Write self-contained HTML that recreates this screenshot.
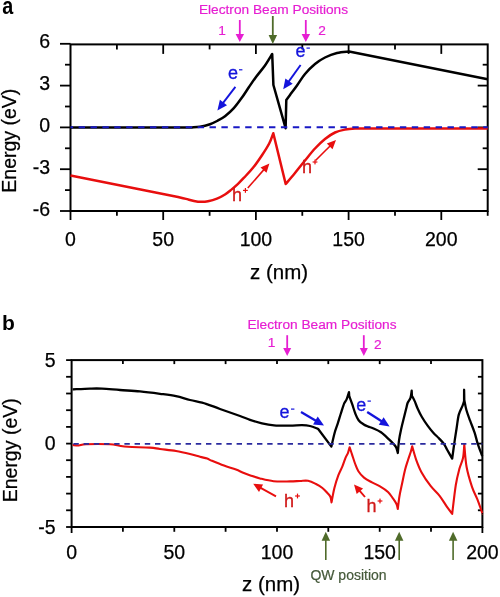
<!DOCTYPE html>
<html><head><meta charset="utf-8"><style>
html,body{margin:0;padding:0;background:#fff;}
svg{display:block;will-change:transform;}
text{font-family:"Liberation Sans",sans-serif;}
.tl{font-size:19.5px;fill:#000;stroke:#000;stroke-width:0.25px;}
.tlb{font-size:19.5px;fill:#000;stroke:#000;stroke-width:0.25px;}
.at{font-size:20.5px;fill:#000;stroke:#000;stroke-width:0.25px;}
.at2{font-size:19.5px;fill:#000;stroke:#000;stroke-width:0.25px;}
.pl{font-size:21px;font-weight:bold;fill:#000;}
.tt{font-size:13.7px;stroke:#e61ed2;stroke-width:0.2px;}
.eh{font-size:18px;stroke-width:0.3px;}
.qw{font-size:14px;stroke:#45593a;stroke-width:0.2px;}
</style></head><body>
<svg width="500" height="597" viewBox="0 0 500 597">
<rect width="500" height="597" fill="#fff"/>
<rect x="70.5" y="44.4" width="417.2" height="166.6" fill="none" stroke="#000" stroke-width="2"/>
<line x1="70.5" y1="211.0" x2="70.5" y2="220.0" stroke="#000" stroke-width="1.8"/>
<line x1="116.9" y1="211.0" x2="116.9" y2="215.8" stroke="#000" stroke-width="1.8"/>
<line x1="116.9" y1="44.4" x2="116.9" y2="49.4" stroke="#000" stroke-width="1.8"/>
<line x1="163.2" y1="211.0" x2="163.2" y2="220.0" stroke="#000" stroke-width="1.8"/>
<line x1="163.2" y1="44.4" x2="163.2" y2="53.9" stroke="#000" stroke-width="1.8"/>
<line x1="209.6" y1="211.0" x2="209.6" y2="215.8" stroke="#000" stroke-width="1.8"/>
<line x1="209.6" y1="44.4" x2="209.6" y2="49.4" stroke="#000" stroke-width="1.8"/>
<line x1="255.9" y1="211.0" x2="255.9" y2="220.0" stroke="#000" stroke-width="1.8"/>
<line x1="255.9" y1="44.4" x2="255.9" y2="53.9" stroke="#000" stroke-width="1.8"/>
<line x1="302.3" y1="211.0" x2="302.3" y2="215.8" stroke="#000" stroke-width="1.8"/>
<line x1="302.3" y1="44.4" x2="302.3" y2="49.4" stroke="#000" stroke-width="1.8"/>
<line x1="348.6" y1="211.0" x2="348.6" y2="220.0" stroke="#000" stroke-width="1.8"/>
<line x1="348.6" y1="44.4" x2="348.6" y2="53.9" stroke="#000" stroke-width="1.8"/>
<line x1="395.0" y1="211.0" x2="395.0" y2="215.8" stroke="#000" stroke-width="1.8"/>
<line x1="395.0" y1="44.4" x2="395.0" y2="49.4" stroke="#000" stroke-width="1.8"/>
<line x1="441.3" y1="211.0" x2="441.3" y2="220.0" stroke="#000" stroke-width="1.8"/>
<line x1="441.3" y1="44.4" x2="441.3" y2="53.9" stroke="#000" stroke-width="1.8"/>
<line x1="487.7" y1="211.0" x2="487.7" y2="215.8" stroke="#000" stroke-width="1.8"/>
<line x1="60.0" y1="211.0" x2="70.5" y2="211.0" stroke="#000" stroke-width="1.8"/>
<line x1="65.0" y1="190.1" x2="70.5" y2="190.1" stroke="#000" stroke-width="1.8"/>
<line x1="482.7" y1="190.1" x2="487.7" y2="190.1" stroke="#000" stroke-width="1.8"/>
<line x1="60.0" y1="169.2" x2="70.5" y2="169.2" stroke="#000" stroke-width="1.8"/>
<line x1="477.7" y1="169.2" x2="487.7" y2="169.2" stroke="#000" stroke-width="1.8"/>
<line x1="65.0" y1="148.3" x2="70.5" y2="148.3" stroke="#000" stroke-width="1.8"/>
<line x1="482.7" y1="148.3" x2="487.7" y2="148.3" stroke="#000" stroke-width="1.8"/>
<line x1="60.0" y1="127.4" x2="70.5" y2="127.4" stroke="#000" stroke-width="1.8"/>
<line x1="477.7" y1="127.4" x2="487.7" y2="127.4" stroke="#000" stroke-width="1.8"/>
<line x1="65.0" y1="106.5" x2="70.5" y2="106.5" stroke="#000" stroke-width="1.8"/>
<line x1="482.7" y1="106.5" x2="487.7" y2="106.5" stroke="#000" stroke-width="1.8"/>
<line x1="60.0" y1="85.6" x2="70.5" y2="85.6" stroke="#000" stroke-width="1.8"/>
<line x1="477.7" y1="85.6" x2="487.7" y2="85.6" stroke="#000" stroke-width="1.8"/>
<line x1="65.0" y1="64.7" x2="70.5" y2="64.7" stroke="#000" stroke-width="1.8"/>
<line x1="482.7" y1="64.7" x2="487.7" y2="64.7" stroke="#000" stroke-width="1.8"/>
<line x1="60.0" y1="43.8" x2="70.5" y2="43.8" stroke="#000" stroke-width="1.8"/>
<text x="70.5" y="246" class="tl" text-anchor="middle">0</text>
<text x="163.2" y="246" class="tl" text-anchor="middle">50</text>
<text x="255.9" y="246" class="tl" text-anchor="middle">100</text>
<text x="348.6" y="246" class="tl" text-anchor="middle">150</text>
<text x="441.3" y="246" class="tl" text-anchor="middle">200</text>
<text x="50" y="48.3" class="tl" text-anchor="end">6</text>
<text x="50" y="90.1" class="tl" text-anchor="end">3</text>
<text x="50" y="131.9" class="tl" text-anchor="end">0</text>
<text x="50" y="173.7" class="tl" text-anchor="end">-3</text>
<text x="50" y="215.5" class="tl" text-anchor="end">-6</text>
<text x="279" y="278.5" class="at" text-anchor="middle">z (nm)</text>
<text transform="translate(16.2,140.7) rotate(-90)" class="at2" text-anchor="middle">Energy (eV)</text>
<text transform="translate(2.2,14) scale(0.86,1)" class="pl" style="font-size:23px">a</text>
<path d="M70.50,127.40 L192.00,127.40 C193.33,127.30 197.00,127.33 200.00,126.80 C203.00,126.27 207.03,125.23 210.00,124.20 C212.97,123.17 215.30,121.92 217.80,120.60 C220.30,119.28 222.33,118.37 225.00,116.30 C227.67,114.23 230.97,111.33 233.80,108.20 C236.63,105.07 239.47,101.03 242.00,97.50 C244.53,93.97 246.67,90.42 249.00,87.00 C251.33,83.58 253.33,80.58 256.00,77.00 C258.67,73.42 262.30,69.33 265.00,65.50 C267.70,61.67 271.00,55.92 272.20,54.00 L273.40,85.00 L285.60,128.20 L286.30,100.00 C286.92,99.17 288.22,97.42 290.00,95.00 C291.78,92.58 294.50,89.00 297.00,85.50 C299.50,82.00 302.00,77.58 305.00,74.00 C308.00,70.42 311.67,66.75 315.00,64.00 C318.33,61.25 321.33,59.33 325.00,57.50 C328.67,55.67 333.00,54.00 337.00,53.00 C341.00,52.00 347.00,51.75 349.00,51.50 L487.70,79.30" fill="none" stroke="#000" stroke-width="2.5" stroke-linejoin="round"/>
<path d="M70.50,175.50 L178.00,197.00 C179.33,197.32 183.33,198.25 186.00,198.90 C188.67,199.55 191.50,200.42 194.00,200.90 C196.50,201.38 198.67,201.75 201.00,201.80 C203.33,201.85 205.33,201.73 208.00,201.20 C210.67,200.67 214.17,199.72 217.00,198.60 C219.83,197.48 222.60,196.00 225.00,194.50 C227.40,193.00 229.23,191.38 231.40,189.60 C233.57,187.82 235.90,185.78 238.00,183.80 C240.10,181.82 241.50,180.37 244.00,177.70 C246.50,175.03 250.00,171.55 253.00,167.80 C256.00,164.05 259.30,159.25 262.00,155.20 C264.70,151.15 267.32,147.17 269.20,143.50 C271.08,139.83 272.62,134.92 273.30,133.20 L285.70,184.00 C287.25,182.17 291.78,176.92 295.00,173.00 C298.22,169.08 301.67,164.58 305.00,160.50 C308.33,156.42 311.67,152.08 315.00,148.50 C318.33,144.92 321.67,141.67 325.00,139.00 C328.33,136.33 331.67,134.07 335.00,132.50 C338.33,130.93 341.67,130.27 345.00,129.60 C348.33,128.93 351.67,128.70 355.00,128.50 C358.33,128.30 363.33,128.42 365.00,128.40 L487.70,128.40" fill="none" stroke="#e80e0e" stroke-width="2.5" stroke-linejoin="round"/>
<line x1="70.5" y1="127.2" x2="487.7" y2="127.2" stroke="#1818c4" stroke-width="2" stroke-dasharray="6.4 5.5" stroke-dashoffset="-8.1"/>
<line x1="235.4" y1="86.8" x2="222.9" y2="103.2" stroke="#1414dc" stroke-width="1.9"/>
<polygon points="217.4,110.4 219.9,99.7 227.0,105.2" fill="#1414dc"/>
<line x1="300.6" y1="65.0" x2="288.5" y2="81.9" stroke="#1414dc" stroke-width="1.9"/>
<polygon points="283.2,89.2 285.4,78.5 292.7,83.7" fill="#1414dc"/>
<text x="228" y="79" class="eh" fill="#1414dc" stroke="#1414dc">e</text>
<rect x="239" y="69.2" width="3.4" height="1.2" fill="#1414dc"/>
<text x="295.5" y="57" class="eh" fill="#1414dc" stroke="#1414dc">e</text>
<rect x="306.5" y="47.5" width="3.4" height="1.2" fill="#1414dc"/>
<line x1="247.8" y1="188.0" x2="264.1" y2="169.4" stroke="#e80e0e" stroke-width="1.6"/>
<polygon points="269.4,163.4 266.5,172.8 260.5,167.5" fill="#e80e0e"/>
<line x1="315.5" y1="160.5" x2="330.3" y2="145.7" stroke="#e80e0e" stroke-width="1.6"/>
<polygon points="336.0,140.0 332.5,149.2 326.8,143.5" fill="#e80e0e"/>
<text x="232" y="201" class="eh" fill="#d01818" stroke="#d01818">h</text>
<rect x="243.0" y="189.8" width="4.8" height="1.2" fill="#e80e0e"/>
<rect x="244.8" y="188.0" width="1.2" height="4.8" fill="#e80e0e"/>
<text x="302" y="173" class="eh" fill="#d01818" stroke="#d01818">h</text>
<rect x="312.6" y="161.4" width="4.8" height="1.2" fill="#e80e0e"/>
<rect x="314.4" y="159.6" width="1.2" height="4.8" fill="#e80e0e"/>
<text x="273.5" y="14.2" class="tt" text-anchor="middle" fill="#e61ed2">Electron Beam Positions</text>
<text x="222" y="35" class="tt" text-anchor="middle" fill="#e61ed2">1</text>
<text x="322" y="35" class="tt" text-anchor="middle" fill="#e61ed2">2</text>
<line x1="239.8" y1="20.0" x2="239.8" y2="35.0" stroke="#e61ed2" stroke-width="1.8"/>
<polygon points="239.8,42.0 235.6,34.0 244.1,34.0" fill="#e61ed2"/>
<line x1="305.8" y1="20.0" x2="305.8" y2="35.0" stroke="#e61ed2" stroke-width="1.8"/>
<polygon points="305.8,42.0 301.6,34.0 310.1,34.0" fill="#e61ed2"/>
<line x1="272.8" y1="16.0" x2="272.8" y2="36.0" stroke="#4f6b2a" stroke-width="1.8"/>
<polygon points="272.8,44.0 268.6,35.0 277.1,35.0" fill="#4f6b2a"/>
<rect x="71.6" y="360.1" width="410.79999999999995" height="166.89999999999998" fill="none" stroke="#000" stroke-width="2"/>
<line x1="71.6" y1="527.0" x2="71.6" y2="533.0" stroke="#000" stroke-width="1.8"/>
<line x1="122.9" y1="527.0" x2="122.9" y2="531.8" stroke="#000" stroke-width="1.8"/>
<line x1="122.9" y1="360.1" x2="122.9" y2="364.1" stroke="#000" stroke-width="1.8"/>
<line x1="174.3" y1="527.0" x2="174.3" y2="531.8" stroke="#000" stroke-width="1.8"/>
<line x1="174.3" y1="360.1" x2="174.3" y2="364.1" stroke="#000" stroke-width="1.8"/>
<line x1="225.6" y1="527.0" x2="225.6" y2="531.8" stroke="#000" stroke-width="1.8"/>
<line x1="225.6" y1="360.1" x2="225.6" y2="364.1" stroke="#000" stroke-width="1.8"/>
<line x1="277.0" y1="527.0" x2="277.0" y2="531.8" stroke="#000" stroke-width="1.8"/>
<line x1="277.0" y1="360.1" x2="277.0" y2="364.1" stroke="#000" stroke-width="1.8"/>
<line x1="328.3" y1="527.0" x2="328.3" y2="531.8" stroke="#000" stroke-width="1.8"/>
<line x1="328.3" y1="360.1" x2="328.3" y2="364.1" stroke="#000" stroke-width="1.8"/>
<line x1="379.7" y1="527.0" x2="379.7" y2="531.8" stroke="#000" stroke-width="1.8"/>
<line x1="379.7" y1="360.1" x2="379.7" y2="364.1" stroke="#000" stroke-width="1.8"/>
<line x1="431.0" y1="527.0" x2="431.0" y2="531.8" stroke="#000" stroke-width="1.8"/>
<line x1="431.0" y1="360.1" x2="431.0" y2="364.1" stroke="#000" stroke-width="1.8"/>
<line x1="482.4" y1="527.0" x2="482.4" y2="533.0" stroke="#000" stroke-width="1.8"/>
<line x1="66.1" y1="527.0" x2="71.6" y2="527.0" stroke="#000" stroke-width="1.8"/>
<line x1="66.1" y1="510.3" x2="71.6" y2="510.3" stroke="#000" stroke-width="1.8"/>
<line x1="477.9" y1="510.3" x2="482.4" y2="510.3" stroke="#000" stroke-width="1.8"/>
<line x1="66.1" y1="493.6" x2="71.6" y2="493.6" stroke="#000" stroke-width="1.8"/>
<line x1="477.9" y1="493.6" x2="482.4" y2="493.6" stroke="#000" stroke-width="1.8"/>
<line x1="66.1" y1="476.9" x2="71.6" y2="476.9" stroke="#000" stroke-width="1.8"/>
<line x1="477.9" y1="476.9" x2="482.4" y2="476.9" stroke="#000" stroke-width="1.8"/>
<line x1="66.1" y1="460.2" x2="71.6" y2="460.2" stroke="#000" stroke-width="1.8"/>
<line x1="477.9" y1="460.2" x2="482.4" y2="460.2" stroke="#000" stroke-width="1.8"/>
<line x1="66.1" y1="443.6" x2="71.6" y2="443.6" stroke="#000" stroke-width="1.8"/>
<line x1="477.9" y1="443.6" x2="482.4" y2="443.6" stroke="#000" stroke-width="1.8"/>
<line x1="66.1" y1="426.9" x2="71.6" y2="426.9" stroke="#000" stroke-width="1.8"/>
<line x1="477.9" y1="426.9" x2="482.4" y2="426.9" stroke="#000" stroke-width="1.8"/>
<line x1="66.1" y1="410.2" x2="71.6" y2="410.2" stroke="#000" stroke-width="1.8"/>
<line x1="477.9" y1="410.2" x2="482.4" y2="410.2" stroke="#000" stroke-width="1.8"/>
<line x1="66.1" y1="393.5" x2="71.6" y2="393.5" stroke="#000" stroke-width="1.8"/>
<line x1="477.9" y1="393.5" x2="482.4" y2="393.5" stroke="#000" stroke-width="1.8"/>
<line x1="66.1" y1="376.8" x2="71.6" y2="376.8" stroke="#000" stroke-width="1.8"/>
<line x1="477.9" y1="376.8" x2="482.4" y2="376.8" stroke="#000" stroke-width="1.8"/>
<line x1="66.1" y1="360.1" x2="71.6" y2="360.1" stroke="#000" stroke-width="1.8"/>
<text x="71.6" y="559" class="tlb" text-anchor="middle">0</text>
<text x="174.3" y="559" class="tlb" text-anchor="middle">50</text>
<text x="277.0" y="559" class="tlb" text-anchor="middle">100</text>
<text x="379.7" y="559" class="tlb" text-anchor="middle">150</text>
<text x="482.4" y="559" class="tlb" text-anchor="middle">200</text>
<text x="55.5" y="366.6" class="tlb" text-anchor="end">5</text>
<text x="55.5" y="450.1" class="tlb" text-anchor="end">0</text>
<text x="55.5" y="533.5" class="tlb" text-anchor="end">-5</text>
<text x="271" y="590.5" class="at" text-anchor="middle">z (nm)</text>
<text transform="translate(16.6,450.3) rotate(-90)" class="at2" text-anchor="middle">Energy (eV)</text>
<text x="2" y="330" class="pl">b</text>
<path d="M72.60,389.40 C75.50,389.27 85.10,388.73 90.00,388.60 C94.90,388.47 97.00,388.37 102.00,388.60 C107.00,388.83 113.67,389.53 120.00,390.00 C126.33,390.47 133.33,390.77 140.00,391.40 C146.67,392.03 154.00,393.00 160.00,393.80 C166.00,394.60 171.00,395.17 176.00,396.20 C181.00,397.23 185.00,398.73 190.00,400.00 C195.00,401.27 201.00,402.30 206.00,403.80 C211.00,405.30 214.33,406.97 220.00,409.00 C225.67,411.03 235.00,414.20 240.00,416.00 C245.00,417.80 246.33,418.58 250.00,419.80 C253.67,421.02 258.00,422.38 262.00,423.30 C266.00,424.22 269.33,424.92 274.00,425.30 C278.67,425.68 285.33,425.62 290.00,425.60 C294.67,425.58 298.67,425.13 302.00,425.20 C305.33,425.27 307.33,425.40 310.00,426.00 C312.67,426.60 316.67,428.33 318.00,428.80 L331.40,446.60 C331.93,444.33 333.53,436.87 334.60,433.00 C335.67,429.13 336.73,426.73 337.80,423.40 C338.87,420.07 339.93,416.33 341.00,413.00 C342.07,409.67 343.27,405.67 344.20,403.40 C345.13,401.13 345.80,401.27 346.60,399.40 C347.40,397.53 348.60,393.40 349.00,392.20 L349.20,396.00 C349.70,397.37 351.17,401.23 352.20,404.20 C353.23,407.17 354.33,411.13 355.40,413.80 C356.47,416.47 357.27,418.47 358.60,420.20 C359.93,421.93 361.80,423.13 363.40,424.20 C365.00,425.27 366.60,425.93 368.20,426.60 C369.80,427.27 370.87,427.27 373.00,428.20 C375.13,429.13 378.33,430.33 381.00,432.20 C383.67,434.07 386.87,437.40 389.00,439.40 C391.13,441.40 392.60,442.87 393.80,444.20 C395.00,445.53 395.53,445.93 396.20,447.40 C396.87,448.87 397.53,452.07 397.80,453.00 C398.02,450.80 398.52,443.90 399.10,439.80 C399.68,435.70 400.47,432.20 401.30,428.40 C402.13,424.60 403.28,420.32 404.10,417.00 C404.92,413.68 405.60,410.87 406.20,408.50 C406.80,406.13 406.98,404.58 407.70,402.80 C408.42,401.02 409.83,399.82 410.50,397.80 C411.17,395.78 411.50,391.88 411.70,390.70 L411.90,395.70 C412.38,396.65 413.85,399.27 414.80,401.40 C415.75,403.53 416.42,405.90 417.60,408.50 C418.78,411.10 420.23,414.15 421.90,417.00 C423.57,419.85 425.70,422.98 427.60,425.60 C429.50,428.22 431.40,430.57 433.30,432.70 C435.20,434.83 437.22,436.52 439.00,438.40 C440.78,440.28 442.67,442.15 444.00,444.00 C445.33,445.85 445.63,447.07 447.00,449.50 C448.37,451.93 451.33,457.08 452.20,458.60 C452.55,456.05 453.57,448.37 454.30,443.30 C455.03,438.23 455.85,432.98 456.60,428.20 C457.35,423.42 457.80,418.37 458.80,414.60 C459.80,410.83 461.72,407.87 462.60,405.60 C463.48,403.33 463.85,401.77 464.10,401.00 C464.10,399.13 464.07,389.97 464.10,389.80 C464.13,389.63 464.27,398.30 464.30,400.00 C464.65,401.67 465.43,406.55 466.40,410.00 C467.37,413.45 468.73,416.92 470.10,420.70 C471.47,424.48 473.35,428.93 474.60,432.70 C475.85,436.47 476.47,439.78 477.60,443.30 C478.73,446.82 480.60,451.68 481.40,453.80 C482.20,455.92 482.23,455.63 482.40,456.00" fill="none" stroke="#000" stroke-width="2.3" stroke-linejoin="round"/>
<path d="M72.60,445.00 C73.63,445.08 76.57,445.63 78.80,445.50 C81.03,445.37 80.80,444.42 86.00,444.20 C91.20,443.98 104.60,443.98 110.00,444.20 C115.40,444.42 115.40,445.07 118.40,445.50 C121.40,445.93 122.73,446.45 128.00,446.80 C133.27,447.15 144.67,447.23 150.00,447.60 C155.33,447.97 155.67,448.43 160.00,449.00 C164.33,449.57 171.00,450.17 176.00,451.00 C181.00,451.83 186.00,453.03 190.00,454.00 C194.00,454.97 197.13,456.03 200.00,456.80 C202.87,457.57 205.20,457.93 207.20,458.60 C209.20,459.27 209.20,459.63 212.00,460.80 C214.80,461.97 220.00,464.13 224.00,465.60 C228.00,467.07 232.80,468.40 236.00,469.60 C239.20,470.80 240.80,471.83 243.20,472.80 C245.60,473.77 247.60,474.47 250.40,475.40 C253.20,476.33 256.13,477.43 260.00,478.40 C263.87,479.37 268.60,480.70 273.60,481.20 C278.60,481.70 285.60,481.43 290.00,481.40 C294.40,481.37 297.00,481.10 300.00,481.00 C303.00,480.90 305.33,480.30 308.00,480.80 C310.67,481.30 313.60,482.80 316.00,484.00 C318.40,485.20 320.53,486.53 322.40,488.00 C324.27,489.47 325.87,491.33 327.20,492.80 C328.53,494.27 329.68,495.20 330.40,496.80 C331.12,498.40 331.32,501.47 331.50,502.40 C331.98,500.00 333.25,492.53 334.40,488.00 C335.55,483.47 337.07,478.80 338.40,475.20 C339.73,471.60 341.20,469.33 342.40,466.40 C343.60,463.47 344.67,459.87 345.60,457.60 C346.53,455.33 347.33,454.53 348.00,452.80 C348.67,451.07 349.33,448.13 349.60,447.20 C350.00,448.40 351.07,451.60 352.00,454.40 C352.93,457.20 354.13,461.20 355.20,464.00 C356.27,466.80 356.93,468.93 358.40,471.20 C359.87,473.47 361.73,475.73 364.00,477.60 C366.27,479.47 369.33,480.93 372.00,482.40 C374.67,483.87 377.33,484.80 380.00,486.40 C382.67,488.00 385.83,489.98 388.00,492.00 C390.17,494.02 391.58,496.50 393.00,498.50 C394.42,500.50 395.70,502.25 396.50,504.00 C397.30,505.75 397.58,508.17 397.80,509.00 C398.08,506.83 398.80,500.17 399.50,496.00 C400.20,491.83 401.08,488.33 402.00,484.00 C402.92,479.67 403.98,474.03 405.00,470.00 C406.02,465.97 407.13,462.85 408.10,459.80 C409.07,456.75 410.12,453.95 410.80,451.70 C411.48,449.45 411.97,447.20 412.20,446.30 C412.87,448.55 414.63,455.45 416.20,459.80 C417.77,464.15 419.20,468.05 421.60,472.40 C424.00,476.75 427.60,482.00 430.60,485.90 C433.60,489.80 436.90,492.35 439.60,495.80 C442.30,499.25 444.70,503.60 446.80,506.60 C448.90,509.60 451.30,512.60 452.20,513.80 C452.80,509.00 454.60,492.50 455.80,485.00 C457.00,477.50 458.20,473.30 459.40,468.80 C460.60,464.30 462.18,462.05 463.00,458.00 C463.82,453.95 464.08,446.75 464.30,444.50 C464.68,448.25 465.32,459.95 466.60,467.00 C467.88,474.05 470.20,481.40 472.00,486.80 C473.80,492.20 475.75,495.20 477.40,499.40 C479.05,503.60 481.07,509.73 481.90,512.00 C482.73,514.27 482.32,512.83 482.40,513.00" fill="none" stroke="#e80e0e" stroke-width="2.1" stroke-linejoin="round"/>
<line x1="71.6" y1="443.9" x2="482.4" y2="443.9" stroke="#2a2a9e" stroke-width="1.9" stroke-dasharray="5.4 4.8" stroke-dashoffset="-1.8"/>
<line x1="301.0" y1="412.0" x2="316.3" y2="421.0" stroke="#1414dc" stroke-width="2.3"/>
<polygon points="324.0,425.6 313.1,424.4 317.7,416.6" fill="#1414dc"/>
<line x1="367.2" y1="412.0" x2="382.0" y2="421.5" stroke="#1414dc" stroke-width="2.3"/>
<polygon points="389.6,426.4 378.8,424.8 383.6,417.2" fill="#1414dc"/>
<text x="279.5" y="417.5" class="eh" fill="#1414dc" stroke="#1414dc">e</text>
<rect x="291" y="408.5" width="3.4" height="1.2" fill="#1414dc"/>
<text x="356.3" y="410.5" class="eh" fill="#1414dc" stroke="#1414dc">e</text>
<rect x="367.5" y="400.5" width="3.4" height="1.2" fill="#1414dc"/>
<line x1="276.0" y1="496.4" x2="260.2" y2="487.7" stroke="#e80e0e" stroke-width="1.9"/>
<polygon points="253.2,483.8 263.1,484.4 259.0,491.9" fill="#e80e0e"/>
<line x1="365.0" y1="497.0" x2="359.3" y2="490.4" stroke="#e80e0e" stroke-width="1.9"/>
<polygon points="354.0,484.4 363.1,488.4 356.7,494.0" fill="#e80e0e"/>
<text x="284" y="506.5" class="eh" fill="#d01818" stroke="#d01818">h</text>
<rect x="295.1" y="495.4" width="4.8" height="1.2" fill="#e80e0e"/>
<rect x="296.9" y="493.6" width="1.2" height="4.8" fill="#e80e0e"/>
<text x="366.5" y="512" class="eh" fill="#d01818" stroke="#d01818">h</text>
<rect x="377.6" y="500.4" width="4.8" height="1.2" fill="#e80e0e"/>
<rect x="379.4" y="498.6" width="1.2" height="4.8" fill="#e80e0e"/>
<text x="322" y="329" class="tt" text-anchor="middle" fill="#e61ed2">Electron Beam Positions</text>
<text x="271.5" y="347" class="tt" text-anchor="middle" fill="#e61ed2">1</text>
<text x="377.7" y="349" class="tt" text-anchor="middle" fill="#e61ed2">2</text>
<line x1="287.2" y1="335.2" x2="287.2" y2="349.0" stroke="#e61ed2" stroke-width="1.8"/>
<polygon points="287.2,356.0 283.2,348.0 291.2,348.0" fill="#e61ed2"/>
<line x1="363.8" y1="335.2" x2="363.8" y2="349.0" stroke="#e61ed2" stroke-width="1.8"/>
<polygon points="363.8,356.0 359.8,348.0 367.8,348.0" fill="#e61ed2"/>
<line x1="325.8" y1="560.0" x2="325.8" y2="539.8" stroke="#4f6b2a" stroke-width="1.6"/>
<polygon points="325.8,531.8 330.1,540.8 321.6,540.8" fill="#4f6b2a"/>
<line x1="399.2" y1="560.0" x2="399.2" y2="539.8" stroke="#4f6b2a" stroke-width="1.6"/>
<polygon points="399.2,531.8 403.4,540.8 394.9,540.8" fill="#4f6b2a"/>
<line x1="453.1" y1="560.0" x2="453.1" y2="539.8" stroke="#4f6b2a" stroke-width="1.6"/>
<polygon points="453.1,531.8 457.4,540.8 448.9,540.8" fill="#4f6b2a"/>
<text x="348.5" y="580.2" class="qw" text-anchor="middle" fill="#45593a">QW position</text>
</svg>
</body></html>
